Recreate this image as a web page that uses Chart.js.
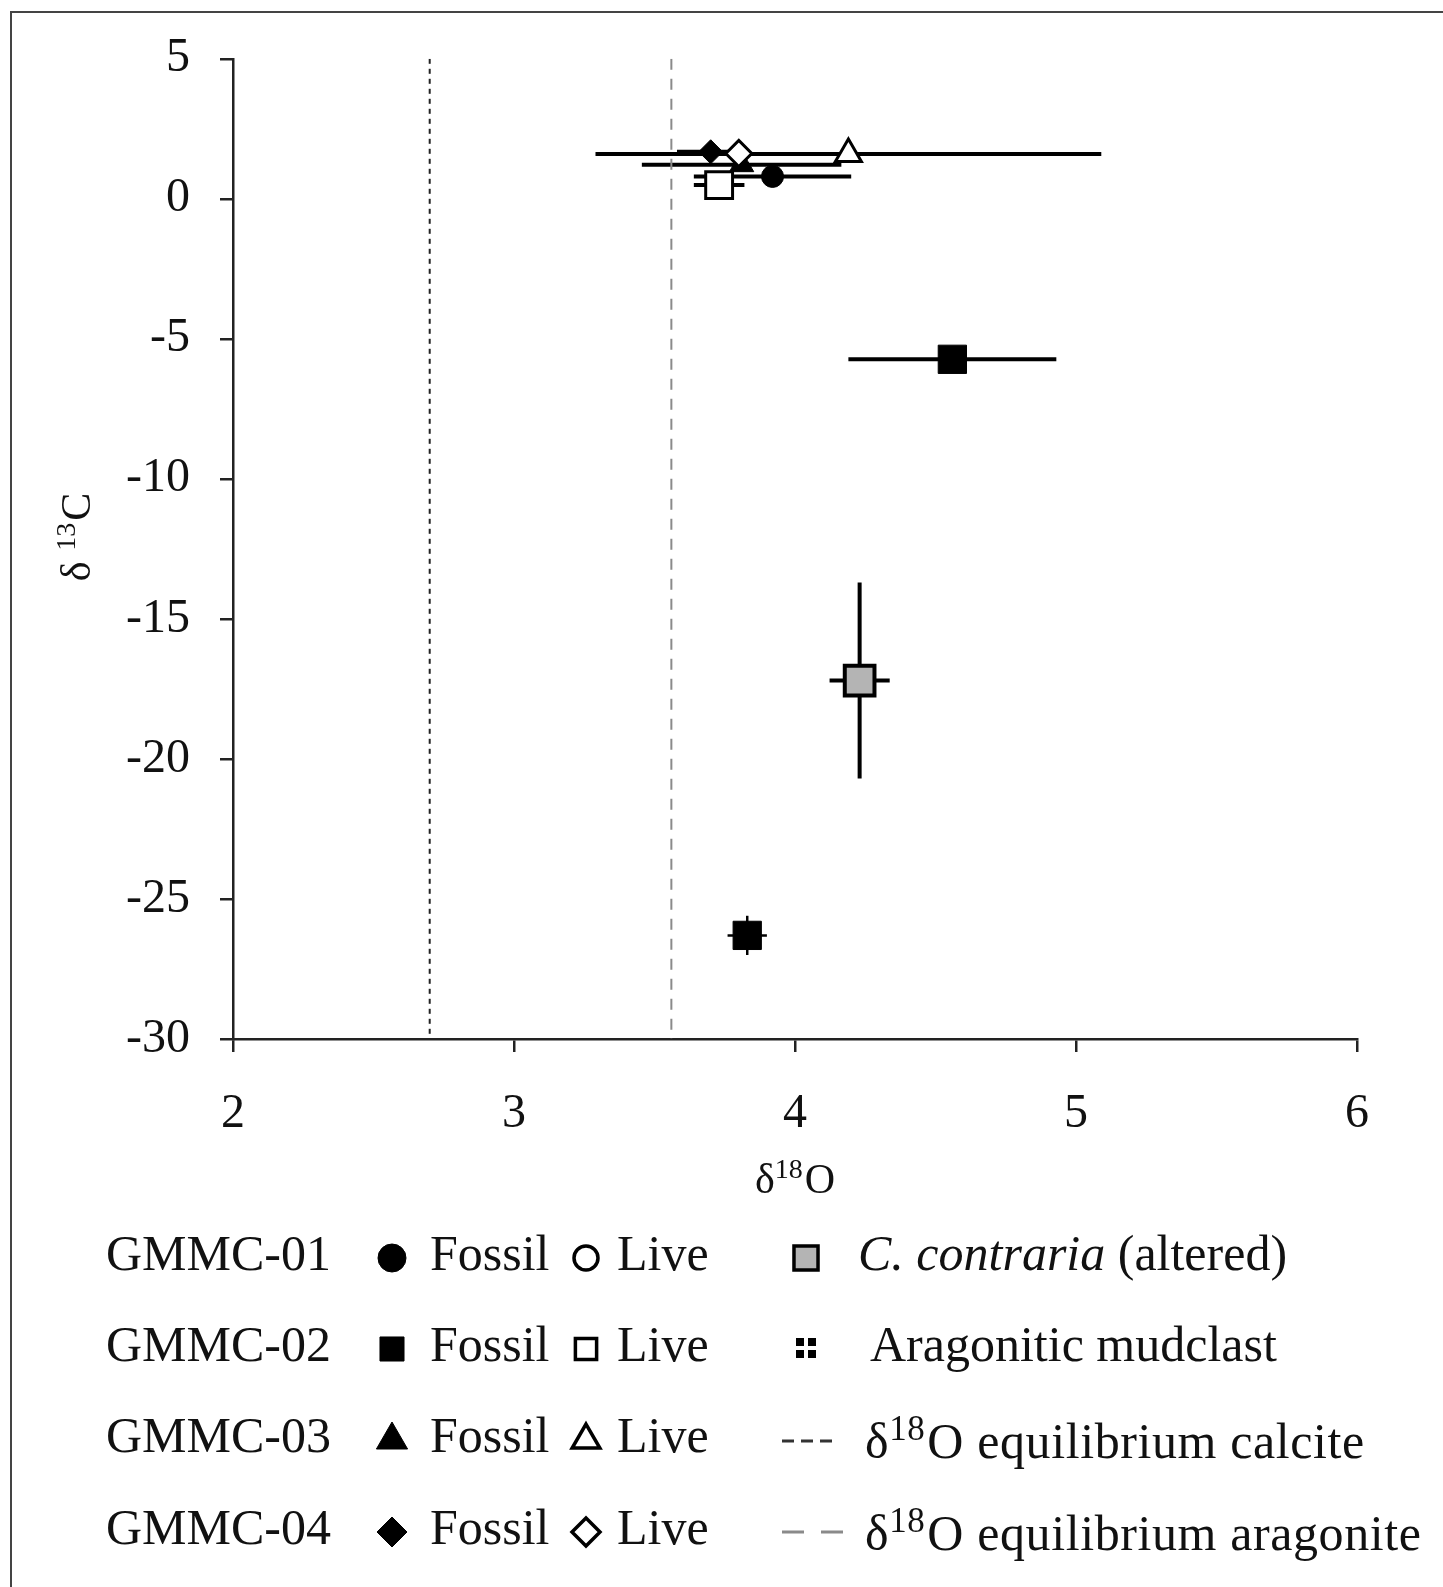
<!DOCTYPE html>
<html>
<head>
<meta charset="utf-8">
<script src="https://cdn.jsdelivr.net/npm/chart.js@4.4.1/dist/chart.umd.min.js"></script>
<style>
  body { margin: 0; background: #fff; }
  #wrap { position: relative; width: 1443px; height: 1587px; overflow: hidden; }
  #frame { position: absolute; left: 10px; top: 11px; width: 1500px; height: 1650px; border: 2px solid #444; }
  canvas { position: absolute; left: 0; top: 0; }
</style>
</head>
<body>
<div id="wrap">
  <div id="frame"></div>
  <canvas id="isotopes-chart" width="1443" height="1587"></canvas>
</div>
<script>
// axis ticks
const xTicks = [2, 3, 4, 5, 6]
const yTicks = [5, 0, -5, -10, -15, -20, -25, -30]

// samples
const series = ['GMMC-01 Fossil', 'GMMC-02 Fossil', 'GMMC-03 Fossil', 'GMMC-04 Fossil',
                'GMMC-02 Live', 'GMMC-03 Live', 'GMMC-04 Live',
                'C. contraria (altered)', 'Aragonitic mudclast']
const d18O    = [3.92, 4.56, 3.81, 3.70, 3.73, 4.19, 3.80, 4.23, 3.83]
const d13C    = [0.80, -5.73, 1.22, 1.68, 0.49, 1.60, 1.62, -17.2, -26.3]
const d18OErr = [0.28, 0.37, 0.355, 0.12, 0.09, 0.90, 0, 0.107, 0.07]
const d13CErr = [0, 0, 0, 0, 0, 0, 0, 3.5, 0.7]

// equilibrium d18O lines
const eqNames = ['calcite', 'aragonite']
const eqO = [2.70, 3.56]

// marker look for each series (same order as series)
const looks = [
    {style: 'circle',  r: 11, fill: '#000', w: 1},
    {style: 'rect',    r: 20, fill: '#000', w: 1},
    {style: 'triangle',r: 14, fill: '#000', w: 1},
    {style: 'rectRot', r: 12, fill: '#000', w: 1},
    {style: 'rect',    r: 19, fill: '#fff', w: 3},
    {style: 'triangle',r: 15, fill: '#fff', w: 3},
    {style: 'rectRot', r: 13, fill: '#fff', w: 3},
    {style: 'rect',    r: 21, fill: '#b4b4b4', w: 4},
    {style: 'rect',    r: 20, fill: '#000', w: 1}
]
// first one is drawn on top
const drawOrder = [7, 8, 1, 0, 6, 3, 5, 4, 2]

const serif = '"Liberation Serif", "Times New Roman", serif'

const datasets = drawOrder.map((i) => ({
    label: series[i],
    data: [{x: d18O[i], y: d13C[i]}],
    pointStyle: looks[i].style,
    pointRadius: looks[i].r,
    pointBackgroundColor: looks[i].fill,
    pointBorderColor: '#000',
    pointBorderWidth: looks[i].w
}))

eqO.forEach((o, k) => {
    datasets.push({
        type: 'line',
        label: eqNames[k],
        data: [{x: o, y: yTicks[0]}, {x: o, y: yTicks[yTicks.length - 1]}],
        borderColor: k == 0 ? '#222' : '#8a8a8a',
        borderWidth: 2,
        borderDash: k == 0 ? [5, 5] : [11, 9],
        pointRadius: 0
    })
})

const errorBars = {
    id: 'errorBars',
    beforeDatasetsDraw(chart) {
        const {ctx, scales: {x, y}} = chart
        ctx.save()
        ctx.strokeStyle = '#000'
        ctx.lineCap = 'butt'
        for (let i = 0; i < series.length; i++) {
            ctx.lineWidth = i == 8 ? 2.5 : 4
            const px = x.getPixelForValue(d18O[i])
            const py = y.getPixelForValue(d13C[i])
            if (d18OErr[i] > 0) {
                ctx.beginPath()
                ctx.moveTo(x.getPixelForValue(d18O[i] - d18OErr[i]), py)
                ctx.lineTo(x.getPixelForValue(d18O[i] + d18OErr[i]), py)
                ctx.stroke()
            }
            if (d13CErr[i] > 0) {
                ctx.beginPath()
                ctx.moveTo(px, y.getPixelForValue(d13C[i] - d13CErr[i]))
                ctx.lineTo(px, y.getPixelForValue(d13C[i] + d13CErr[i]))
                ctx.stroke()
            }
        }
        ctx.restore()
    }
}

// text with a superscript, returns the end x
const supText = (ctx, parts, x, y, size, supScale) => {
    const ss = supScale || 0.66
    for (const [txt, sup] of parts) {
        ctx.font = (sup ? Math.round(size * ss) : size) + 'px ' + serif
        ctx.fillText(txt, x, sup ? y - size * 0.36 : y)
        x += ctx.measureText(txt).width + (sup ? 2 : 0)
    }
    return x
}

const titlesAndLegend = {
    id: 'titlesAndLegend',
    afterDraw(chart) {
        const ctx = chart.ctx
        const dp = Chart.helpers.drawPoint
        ctx.save()
        ctx.fillStyle = '#111'
        ctx.textBaseline = 'alphabetic'

        // x title
        let w = 0
        ctx.font = '42px ' + serif; w += ctx.measureText('δ').width + ctx.measureText('O').width
        ctx.font = '28px ' + serif; w += ctx.measureText('18').width
        supText(ctx, [['δ', 0], ['18', 1], ['O', 0]], 794 - w / 2, 1193, 42)

        // y title (rotated)
        ctx.save()
        ctx.translate(90, 538)
        ctx.rotate(-Math.PI / 2)
        ctx.font = '42px ' + serif; w = ctx.measureText('δ ').width + ctx.measureText('C').width
        ctx.font = '28px ' + serif; w += ctx.measureText('13').width
        supText(ctx, [['δ ', 0], ['13', 1], ['C', 0]], -w / 2, 0, 42)
        ctx.restore()

        // legend
        const rows = [1270, 1361, 1452, 1544]
        const fossilR = [14, 17, 18, 15]
        const liveR = [12, 15, 16, 14]
        const live = ['circle', 'rect', 'triangle', 'rectRot']
        const size = 50
        for (let k = 0; k < 4; k++) {
            const by = rows[k]
            ctx.fillStyle = '#111'
            ctx.font = size + 'px ' + serif
            ctx.fillText('GMMC-0' + (k + 1), 106, by)
            ctx.fillText('Fossil', 430, by)
            ctx.fillText('Live', 617, by)
            const my = by - 12
            ctx.fillStyle = '#000'
            ctx.strokeStyle = '#000'
            ctx.lineWidth = 1
            dp(ctx, {pointStyle: live[k], radius: fossilR[k], rotation: 0, borderWidth: 1}, 392, my)
            ctx.fillStyle = '#fff'
            ctx.lineWidth = 3.5
            dp(ctx, {pointStyle: live[k], radius: liveR[k], rotation: 0, borderWidth: 3.5}, 586, my)
        }
        // right column
        ctx.strokeStyle = '#000'
        ctx.fillStyle = '#b4b4b4'
        ctx.lineWidth = 3.5
        dp(ctx, {pointStyle: 'rect', radius: 17, rotation: 0, borderWidth: 3.5}, 806, rows[0] - 12)
        ctx.fillStyle = '#000'
        for (const [dx, dy] of [[-6, -6], [6, -6], [-6, 6], [6, 6]]) {
            ctx.fillRect(806 + dx - 4, rows[1] - 13 + dy - 4, 8, 8)
        }
        ctx.fillStyle = '#111'
        ctx.font = 'italic ' + size + 'px ' + serif
        ctx.fillText('C. contraria', 858, rows[0])
        const cw = ctx.measureText('C. contraria ').width
        ctx.font = size + 'px ' + serif
        ctx.fillText('(altered)', 858 + cw, rows[0])
        ctx.fillText('Aragonitic mudclast', 870, rows[1])

        ctx.lineWidth = 3
        ctx.strokeStyle = '#333'
        ctx.setLineDash([12, 7])
        ctx.beginPath(); ctx.moveTo(782, rows[2] - 11); ctx.lineTo(834, rows[2] - 11); ctx.stroke()
        ctx.strokeStyle = '#8a8a8a'
        ctx.setLineDash([22, 17])
        ctx.beginPath(); ctx.moveTo(782, rows[3] - 12); ctx.lineTo(843, rows[3] - 12); ctx.stroke()
        ctx.setLineDash([])

        ctx.fillStyle = '#111'
        ctx.save()
        ctx.letterSpacing = '0.6px'
        supText(ctx, [['δ', 0], ['18', 1], ['O equilibrium calcite', 0]], 865, rows[2] + 6, size, 0.7)
        supText(ctx, [['δ', 0], ['18', 1], ['O equilibrium aragonite', 0]], 865, rows[3] + 6, size, 0.7)
        ctx.restore()
        ctx.restore()
    }
}

const axisStyle = (extra) => Object.assign({
    type: 'linear',
    grid: {display: true, drawOnChartArea: false, drawTicks: true, tickLength: 13, color: '#222', lineWidth: 2.5},
    border: {display: true, color: '#222', width: 2.5},
    title: {display: false}
}, extra)

const ctx = document.getElementById('isotopes-chart').getContext('2d')
const myChart = new Chart(ctx, {
    type: 'scatter',
    data: {datasets: datasets},
    options: {
        responsive: false,
        animation: false,
        layout: {padding: {left: 0, right: 86, top: 58, bottom: 400}},
        plugins: {legend: {display: false}, tooltip: {enabled: false}},
        scales: {
            x: axisStyle({
                min: xTicks[0], max: xTicks[xTicks.length - 1],
                ticks: {stepSize: 1, color: '#111', padding: 34, font: {family: serif, size: 48}},
                afterFit: (s) => { s.height = 148 }
            }),
            y: axisStyle({
                min: yTicks[yTicks.length - 1], max: yTicks[0],
                ticks: {stepSize: 5, color: '#111', padding: 30, font: {family: serif, size: 48}},
                afterFit: (s) => { s.width = 233 }
            })
        }
    },
    plugins: [errorBars, titlesAndLegend]
});
</script>
</body>
</html>
